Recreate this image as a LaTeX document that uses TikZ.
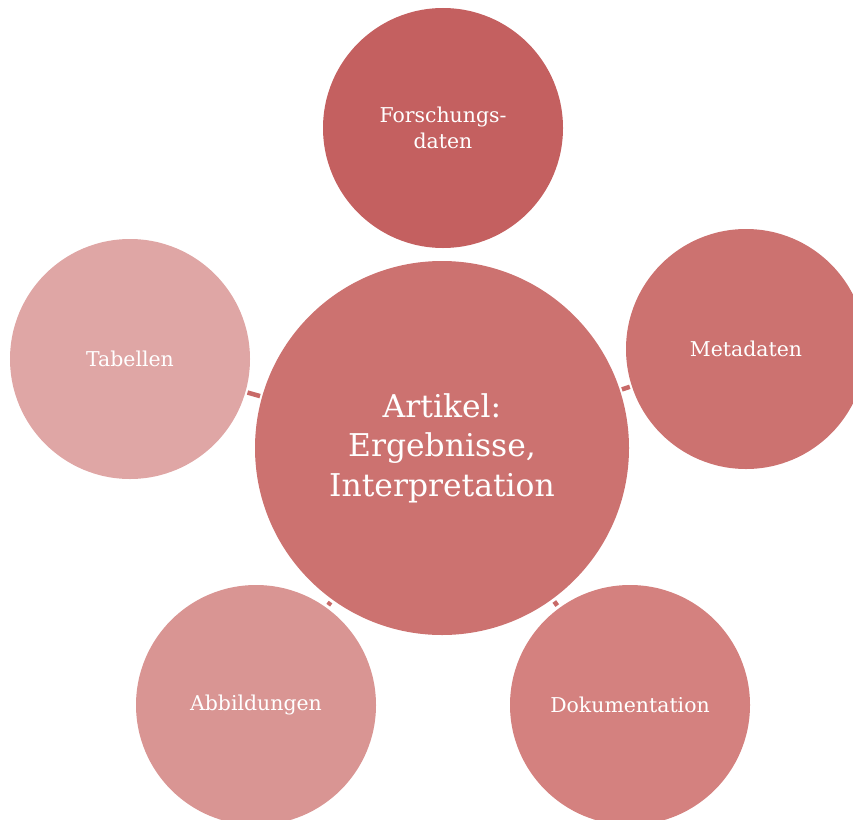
\documentclass[tikz,border=0pt]{standalone}
\usepackage{fontspec}
\setmainfont{DejaVu Serif}
\usepackage{tikz}
\usetikzlibrary{calc}
\usetikzlibrary{positioning}

\definecolor{topred}{RGB}{196,96,96}
\definecolor{midred}{RGB}{204,114,112}
\definecolor{dokred}{RGB}{212,129,127}
\definecolor{abbred}{RGB}{217,149,147}
\definecolor{tabred}{RGB}{223,166,165}
\definecolor{connred}{RGB}{200,106,104}

\begin{document}
\begin{tikzpicture}[x=1bp,y=-1bp,
  bubble/.style={circle,minimum size=240bp,inner sep=0pt,text=white,align=center,font=\fontsize{20.5}{26}\selectfont},
  conn/.style={line width=4.5bp,connred,shorten >=2bp,shorten <=2bp}]

\clip (0,0) rectangle (853,820);
\coordinate (ORIGIN) at (0,0);

%draw centre
\node[circle,minimum size=374bp,inner sep=0pt,fill=midred,text=white,align=center,font=\fontsize{31.5}{39.5}\selectfont] at ($(ORIGIN)+(442,448)$) (ARTIKEL) {Artikel:\\Ergebnisse,\\Interpretation};

%%%%%%%

%draw the ring
\node[bubble,fill=topred] at ($(ORIGIN)+(443,128)$) (FORSCHUNG) {Forschungs-\\daten};
\node[bubble,fill=midred] at ($(ORIGIN)+(746,349)$) (META) {Metadaten};
\node[bubble,fill=dokred] at ($(ORIGIN)+(630,705)$) (DOKU) {Dokumentation};
\node[bubble,fill=abbred] at ($(ORIGIN)+(256,705)$) (ABB) {Abbildungen};
\node[bubble,fill=tabred] at ($(ORIGIN)+(130,359)$) (TAB) {Tabellen};

% the little connectors in the gaps
\draw[conn] (TAB) -- (ARTIKEL);
\draw[conn] (ARTIKEL) -- (META);
\draw[conn,shorten >=3bp,shorten <=3bp] (ARTIKEL) -- (DOKU);
\draw[conn,shorten >=3bp,shorten <=3bp] (ARTIKEL) -- (ABB);

\end{tikzpicture}
\end{document}
